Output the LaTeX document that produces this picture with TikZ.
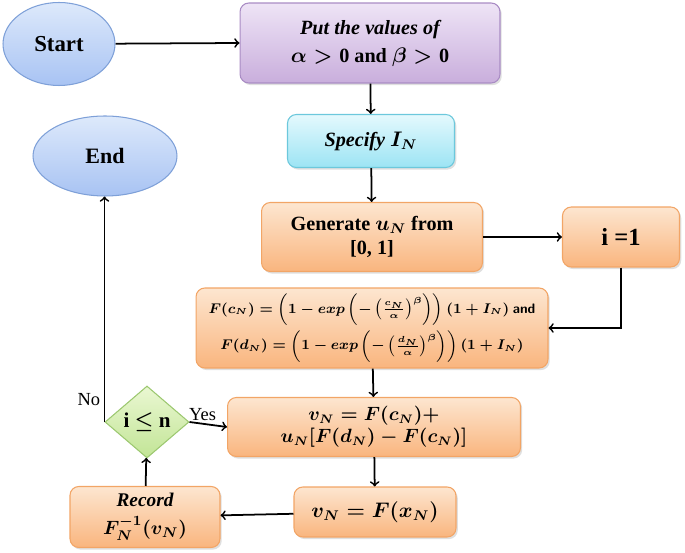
\documentclass[tikz,border=0pt]{standalone}
\usepackage{fontspec}
\setmainfont{Liberation Serif}
\usetikzlibrary{shapes.geometric,shadows}
\definecolor{ovalline}{HTML}{7EA0D8}
\definecolor{ovaltop}{HTML}{DDE9FB}
\definecolor{ovalbot}{HTML}{A8C3F3}
\definecolor{purpline}{HTML}{A98CC4}
\definecolor{purptop}{HTML}{EEE4F6}
\definecolor{purpbot}{HTML}{C9AEDC}
\definecolor{cyanline}{HTML}{6CC8DC}
\definecolor{cyantop}{HTML}{E4F9FD}
\definecolor{cyanbot}{HTML}{9CE4F4}
\definecolor{orngline}{HTML}{F2A566}
\definecolor{orngtop}{HTML}{FDE6D0}
\definecolor{orngbot}{HTML}{F9B57E}
\definecolor{grnline}{HTML}{9CC870}
\definecolor{grntop}{HTML}{EAF7D2}
\definecolor{grnbot}{HTML}{C2E596}
\begin{document}
\begin{tikzpicture}[x=0.02cm, y=0.02cm]
\tikzstyle{every node}+=[inner sep=2pt, align=center, font=\fontsize{11.5}{14}\selectfont\bfseries\boldmath]
\tikzstyle{oval}=[ellipse, draw=ovalline, top color=ovaltop, bottom color=ovalbot, line width=0.6pt]
\tikzstyle{box}=[rectangle, rounded corners=5pt, line width=0.6pt, drop shadow={opacity=0.25, shadow xshift=1pt, shadow yshift=-1.2pt}]
\tikzstyle{orng}=[box, draw=orngline, top color=orngtop, bottom color=orngbot]
\tikzstyle{flow}=[->, line width=1pt, black]
\useasboundingbox (0,0) rectangle (685,-553);
\node [oval, minimum width=2.24cm, minimum height=1.66cm, font=\fontsize{13}{14}\selectfont\bfseries] (start) at (59,-44) {Start};
\node [oval, minimum width=2.88cm, minimum height=1.6cm, font=\fontsize{12.5}{14}\selectfont\bfseries] (end) at (105,-156) {End};
\node [box, draw=purpline, top color=purptop, bottom color=purpbot, minimum width=5.2cm, minimum height=1.6cm] (put) at (370,-43) {\itshape Put the values of\\[2pt] $\alpha>{}$\upshape 0 and $\beta>{}$\upshape 0};
\node [box, draw=cyanline, top color=cyantop, bottom color=cyanbot, minimum width=3.34cm, minimum height=1.06cm] (spec) at (371,-141) {\itshape Specify $I_N$};
\node [orng, minimum width=4.42cm, minimum height=1.38cm] (gen) at (372,-237) {Generate $u_N$ from\\ {[0, 1]}};
\node [orng, minimum width=2.34cm, minimum height=1.2cm, font=\fontsize{14}{16}\selectfont\bfseries] (one) at (621,-237) {i =1};
\node [orng, minimum width=7.04cm, minimum height=1.6cm, font=\fontsize{7.8}{10}\selectfont\bfseries\boldmath] (fcd) at (372,-328) {$F(c_N)=\left(1-exp\left(-\left(\frac{c_N}{\alpha}\right)^{\beta}\right)\right)(1+I_N)$ \textsf{and}\\[2pt] $F(d_N)=\left(1-exp\left(-\left(\frac{d_N}{\alpha}\right)^{\beta}\right)\right)(1+I_N)$};
\node [orng, minimum width=5.86cm, minimum height=1.18cm, font=\fontsize{10.5}{12.5}\selectfont\bfseries\boldmath] (vn) at (374,-427) {$v_N=F(c_N)+$\\ $u_N[F(d_N)-F(c_N)]$};
\node [orng, minimum width=3.24cm, minimum height=1.0cm, font=\fontsize{11.5}{14}\selectfont\bfseries\boldmath] (vx) at (375,-512) {$v_N=F(x_N)$};
\node [orng, minimum width=3.0cm, minimum height=1.22cm, font=\fontsize{11}{13}\selectfont\bfseries\boldmath] (rec) at (145,-517) {\itshape Record\\[3pt] $F_N^{-1}(v_N)$};
\node [diamond, draw=grnline, top color=grntop, bottom color=grnbot, line width=0.6pt, inner sep=0pt, minimum width=1.68cm, minimum height=1.44cm, font=\fontsize{12}{14}\selectfont\bfseries\boldmath] (dia) at (147,-422) {i $\leq$ n};
\draw [flow] (start) -- (put.west);
\draw [flow] (put) -- (spec);
\draw [flow] (spec) -- (gen);
\draw [flow] (gen) -- (one);
\draw [flow] (one) |- (fcd);
\draw [flow] (fcd) -- (vn);
\draw [flow] (vn) -- (vx);
\draw [flow] (vx) -- (rec);
\draw [flow] (rec) -- (dia);
\draw [flow] (dia.east) -- node [above, font=\fontsize{10.5}{12}\selectfont, inner sep=1pt, pos=0.35] {Yes} (vn.west);
\draw [flow] (dia.west) -- node [pos=0.1, left, font=\fontsize{10.5}{12}\selectfont, inner sep=2pt] {No} (dia.west |- end.south);
\end{tikzpicture}
\end{document}
